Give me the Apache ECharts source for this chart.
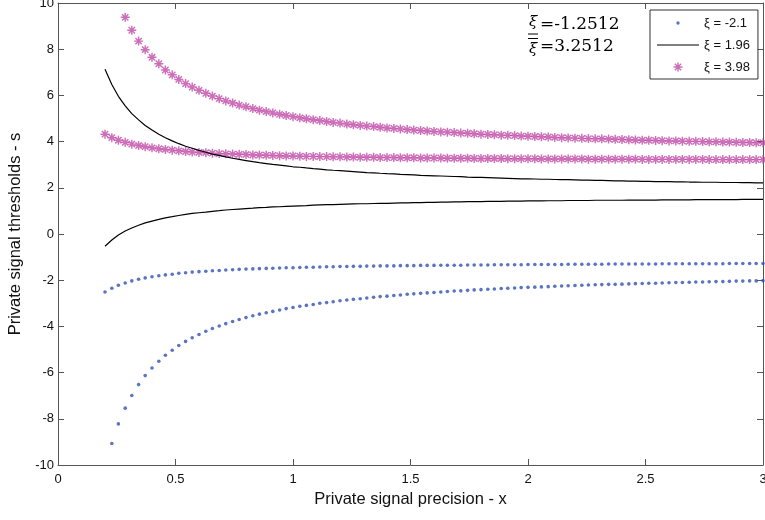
<!DOCTYPE html>
<html><head><meta charset="utf-8">
<script src="https://cdn.jsdelivr.net/npm/echarts@6/dist/echarts.min.js"></script>
<style>html,body{margin:0;padding:0;background:#fff}#c{width:765px;height:520px}</style>
</head><body><div id="c"></div>
<script>
// Private signal precision x (shared by every branch)
const xValues = [
 0.2, 0.229, 0.257, 0.286, 0.314, 0.343, 0.371, 0.4, 0.429, 0.457,
 0.486, 0.514, 0.543, 0.571, 0.6, 0.629, 0.657, 0.686, 0.714, 0.743,
 0.771, 0.8, 0.829, 0.857, 0.886, 0.914, 0.943, 0.971, 1.0, 1.029,
 1.057, 1.086, 1.114, 1.143, 1.171, 1.2, 1.229, 1.257, 1.286, 1.314,
 1.343, 1.371, 1.4, 1.429, 1.457, 1.486, 1.514, 1.543, 1.571, 1.6,
 1.629, 1.657, 1.686, 1.714, 1.743, 1.771, 1.8, 1.829, 1.857, 1.886,
 1.914, 1.943, 1.971, 2.0, 2.029, 2.057, 2.086, 2.114, 2.143, 2.171,
 2.2, 2.229, 2.257, 2.286, 2.314, 2.343, 2.371, 2.4, 2.429, 2.457,
 2.486, 2.514, 2.543, 2.571, 2.6, 2.629, 2.657, 2.686, 2.714, 2.743,
 2.771, 2.8, 2.829, 2.857, 2.886, 2.914, 2.943, 2.971, 3.0
];
// xi = -2.1 : upper and lower thresholds
const xiA_upper = [
 -2.51, -2.35, -2.22, -2.12, -2.03, -1.96, -1.90, -1.85, -1.81, -1.77,
 -1.74, -1.70, -1.68, -1.65, -1.63, -1.61, -1.59, -1.58, -1.56, -1.55,
 -1.53, -1.52, -1.51, -1.50, -1.49, -1.48, -1.47, -1.46, -1.46, -1.45,
 -1.44, -1.44, -1.43, -1.42, -1.42, -1.41, -1.41, -1.40, -1.40, -1.39,
 -1.39, -1.38, -1.38, -1.38, -1.37, -1.37, -1.37, -1.36, -1.36, -1.36,
 -1.35, -1.35, -1.35, -1.35, -1.34, -1.34, -1.34, -1.34, -1.33, -1.33,
 -1.33, -1.33, -1.33, -1.32, -1.32, -1.32, -1.32, -1.32, -1.32, -1.31,
 -1.31, -1.31, -1.31, -1.31, -1.31, -1.30, -1.30, -1.30, -1.30, -1.30,
 -1.30, -1.30, -1.30, -1.29, -1.29, -1.29, -1.29, -1.29, -1.29, -1.29,
 -1.29, -1.29, -1.29, -1.28, -1.28, -1.28, -1.28, -1.28, -1.28
];
const xiA_lower = [
 -10.15, -9.07, -8.22, -7.54, -6.99, -6.52, -6.13, -5.80, -5.51, -5.25,
 -5.03, -4.83, -4.65, -4.49, -4.35, -4.21, -4.09, -3.98, -3.88, -3.79,
 -3.70, -3.62, -3.54, -3.47, -3.41, -3.35, -3.29, -3.23, -3.18, -3.13,
 -3.09, -3.05, -3.00, -2.97, -2.93, -2.89, -2.86, -2.83, -2.80, -2.77,
 -2.74, -2.71, -2.69, -2.66, -2.64, -2.61, -2.59, -2.57, -2.55, -2.53,
 -2.51, -2.49, -2.47, -2.46, -2.44, -2.42, -2.41, -2.39, -2.38, -2.36,
 -2.35, -2.34, -2.32, -2.31, -2.30, -2.29, -2.28, -2.26, -2.25, -2.24,
 -2.23, -2.22, -2.21, -2.20, -2.19, -2.18, -2.18, -2.17, -2.16, -2.15,
 -2.14, -2.13, -2.13, -2.12, -2.11, -2.10, -2.10, -2.09, -2.08, -2.08,
 -2.07, -2.06, -2.06, -2.05, -2.04, -2.04, -2.03, -2.03, -2.02
];
// xi = 1.96
const xiB_upper = [
 7.13, 6.47, 5.96, 5.55, 5.21, 4.94, 4.70, 4.50, 4.32, 4.17,
 4.03, 3.91, 3.80, 3.71, 3.62, 3.54, 3.46, 3.40, 3.34, 3.28,
 3.23, 3.18, 3.13, 3.09, 3.05, 3.01, 2.98, 2.95, 2.91, 2.89,
 2.86, 2.83, 2.81, 2.78, 2.76, 2.74, 2.72, 2.70, 2.68, 2.66,
 2.65, 2.63, 2.61, 2.60, 2.58, 2.57, 2.56, 2.54, 2.53, 2.52,
 2.51, 2.50, 2.49, 2.48, 2.46, 2.45, 2.45, 2.44, 2.43, 2.42,
 2.41, 2.40, 2.39, 2.39, 2.38, 2.37, 2.37, 2.36, 2.35, 2.35,
 2.34, 2.33, 2.33, 2.32, 2.32, 2.31, 2.30, 2.30, 2.29, 2.29,
 2.28, 2.28, 2.27, 2.27, 2.27, 2.26, 2.26, 2.25, 2.25, 2.24,
 2.24, 2.24, 2.23, 2.23, 2.23, 2.22, 2.22, 2.21, 2.21
];
const xiB_lower = [
 -0.53, -0.26, -0.04, 0.13, 0.26, 0.38, 0.48, 0.56, 0.63, 0.70,
 0.75, 0.80, 0.85, 0.89, 0.92, 0.95, 0.98, 1.01, 1.04, 1.06,
 1.08, 1.10, 1.12, 1.14, 1.15, 1.17, 1.18, 1.20, 1.21, 1.22,
 1.23, 1.25, 1.26, 1.27, 1.27, 1.28, 1.29, 1.30, 1.31, 1.31,
 1.32, 1.33, 1.33, 1.34, 1.35, 1.35, 1.36, 1.36, 1.37, 1.37,
 1.38, 1.38, 1.39, 1.39, 1.40, 1.40, 1.40, 1.41, 1.41, 1.41,
 1.42, 1.42, 1.42, 1.43, 1.43, 1.43, 1.44, 1.44, 1.44, 1.45,
 1.45, 1.45, 1.45, 1.46, 1.46, 1.46, 1.46, 1.46, 1.47, 1.47,
 1.47, 1.47, 1.47, 1.48, 1.48, 1.48, 1.48, 1.48, 1.49, 1.49,
 1.49, 1.49, 1.49, 1.49, 1.49, 1.50, 1.50, 1.50, 1.50
];
// xi = 3.98
const xiC_upper = [
 11.86, 10.80, 10.30, 9.38, 8.82, 8.35, 7.98, 7.65, 7.37, 7.10,
 6.89, 6.69, 6.51, 6.36, 6.22, 6.09, 5.97, 5.86, 5.76, 5.67,
 5.58, 5.51, 5.43, 5.36, 5.30, 5.24, 5.18, 5.13, 5.08, 5.03,
 4.99, 4.95, 4.91, 4.87, 4.83, 4.80, 4.76, 4.73, 4.70, 4.67,
 4.65, 4.62, 4.59, 4.57, 4.55, 4.52, 4.50, 4.48, 4.46, 4.44,
 4.42, 4.41, 4.39, 4.37, 4.36, 4.34, 4.32, 4.31, 4.30, 4.28,
 4.27, 4.26, 4.24, 4.23, 4.22, 4.21, 4.20, 4.18, 4.17, 4.16,
 4.15, 4.14, 4.13, 4.12, 4.12, 4.11, 4.10, 4.09, 4.08, 4.07,
 4.06, 4.06, 4.05, 4.04, 4.03, 4.03, 4.02, 4.01, 4.01, 4.00,
 3.99, 3.99, 3.98, 3.98, 3.97, 3.96, 3.96, 3.95, 3.95
];
const xiC_lower = [
 4.32, 4.17, 4.06, 3.97, 3.89, 3.83, 3.78, 3.73, 3.69, 3.66,
 3.63, 3.60, 3.57, 3.55, 3.53, 3.52, 3.50, 3.48, 3.47, 3.46,
 3.45, 3.44, 3.42, 3.42, 3.41, 3.40, 3.39, 3.38, 3.38, 3.37,
 3.36, 3.36, 3.35, 3.35, 3.34, 3.34, 3.33, 3.33, 3.32, 3.32,
 3.32, 3.31, 3.31, 3.31, 3.30, 3.30, 3.30, 3.29, 3.29, 3.29,
 3.29, 3.28, 3.28, 3.28, 3.28, 3.27, 3.27, 3.27, 3.27, 3.27,
 3.26, 3.26, 3.26, 3.26, 3.26, 3.25, 3.25, 3.25, 3.25, 3.25,
 3.25, 3.25, 3.24, 3.24, 3.24, 3.24, 3.24, 3.24, 3.24, 3.24,
 3.23, 3.23, 3.23, 3.23, 3.23, 3.23, 3.23, 3.23, 3.23, 3.23,
 3.22, 3.22, 3.22, 3.22, 3.22, 3.22, 3.22, 3.22, 3.22
];
const seriesNames = ['ξ = -2.1', 'ξ = 1.96', 'ξ = 3.98'];
const xTicks = [0, 0.5, 1, 1.5, 2, 2.5, 3];
const yTicks = [-10, -8, -6, -4, -2, 0, 2, 4, 6, 8, 10];
const xTitle = 'Private signal precision - x';
const yTitle = 'Private signal thresholds - s';
const bounds = [{sym: 'ξ', text: '=-1.2512'}, {sym: 'ξ', text: '=3.2512'}];

const BLUE = '#3151b4', MAG = '#c04aa8', AX = '#555';
const FONT = 'Liberation Sans, Arial, sans-serif';
const SERIF = '"DejaVu Serif", serif';
const star = 'path://M0 4.2H10V5.8H0Z M4.2 0H5.8V10H4.2Z M2.07 0.93L9.07 7.93L7.93 9.07L0.93 2.07Z M9.07 2.07L2.07 9.07L0.93 7.93L7.93 0.93Z';
const pad = 'M0 0h0.01v0.01h-0.01Z M41.99 9.99h0.01v0.01h-0.01Z ';
const legDot = 'path://' + pad + 'M19.3 5a1.7 1.7 0 1 0 3.4 0a1.7 1.7 0 1 0 -3.4 0Z';
const legLine = 'path://' + pad + 'M0 4.4H42V5.6H0Z';
const legStar = 'path://' + pad + 'M16.5 4.28H25.5V5.72H16.5Z M20.28 0.5H21.72V9.5H20.28Z M18.36 1.34L24.66 7.64L23.64 8.66L17.34 2.36Z M24.66 2.36L18.36 8.66L17.34 7.64L23.64 1.34Z';

const pts = arr => xValues.map((x, i) => [x, arr[i]]);
const tickSet = () => ({show: true, inside: true, length: 6, lineStyle: {color: AX, width: 1}});

const chart = echarts.init(document.getElementById('c'), null, {renderer: 'canvas'});
chart.setOption({
  animation: false,
  backgroundColor: '#fff',
  grid: {left: 58, right: 2, top: 3, bottom: 55, containLabel: false, outerBoundsMode: 'none'},
  xAxis: [{
    type: 'value', min: xTicks[0], max: xTicks[xTicks.length - 1], interval: 0.5, position: 'bottom',
    axisLine: {show: true, onZero: false, lineStyle: {color: AX}}, axisTick: tickSet(),
    axisLabel: {color: '#111', fontSize: 13, fontFamily: FONT, margin: 8},
    splitLine: {show: false},
    name: xTitle, nameLocation: 'middle', nameGap: 25,
    nameTextStyle: {fontSize: 16.5, fontFamily: FONT, color: '#111'}
  }, {
    type: 'value', min: xTicks[0], max: xTicks[xTicks.length - 1], interval: 0.5, position: 'top',
    axisLine: {show: true, onZero: false, lineStyle: {color: AX}}, axisTick: tickSet(),
    axisLabel: {show: false}, splitLine: {show: false}
  }],
  yAxis: [{
    type: 'value', min: yTicks[0], max: yTicks[yTicks.length - 1], interval: 2, position: 'left',
    axisLine: {show: true, onZero: false, lineStyle: {color: AX}}, axisTick: tickSet(),
    axisLabel: {color: '#111', fontSize: 13, fontFamily: FONT, margin: 4},
    splitLine: {show: false},
    name: yTitle, nameLocation: 'middle', nameGap: 29,
    nameTextStyle: {fontSize: 16.5, fontFamily: FONT, color: '#111'}
  }, {
    type: 'value', min: yTicks[0], max: yTicks[yTicks.length - 1], interval: 2, position: 'right',
    axisLine: {show: true, onZero: false, lineStyle: {color: AX}}, axisTick: tickSet(),
    axisLabel: {show: false}, splitLine: {show: false}
  }],
  legend: {
    orient: 'vertical', left: 650, top: 10,
    backgroundColor: '#fff', borderColor: '#333', borderWidth: 1, borderRadius: 0,
    padding: [6, 8, 5, 7], itemWidth: 42, itemHeight: 10, itemGap: 8,
    textStyle: {fontSize: 13, fontFamily: FONT, color: '#111', lineHeight: 14},
    data: [
      {name: seriesNames[0], icon: legDot},
      {name: seriesNames[1], icon: legLine},
      {name: seriesNames[2], icon: legStar}
    ]
  },
  series: [
    {name: seriesNames[0], type: 'scatter', data: pts(xiA_upper), symbol: 'circle', symbolSize: 3.6, itemStyle: {color: BLUE}, clip: true},
    {name: seriesNames[0], type: 'scatter', data: pts(xiA_lower), symbol: 'circle', symbolSize: 3.6, itemStyle: {color: BLUE}, clip: true},
    {name: seriesNames[1], type: 'line', data: pts(xiB_upper), showSymbol: false, symbol: 'none', lineStyle: {color: '#000', width: 1.2}, itemStyle: {color: '#000'}, clip: true},
    {name: seriesNames[1], type: 'line', data: pts(xiB_lower), showSymbol: false, symbol: 'none', lineStyle: {color: '#000', width: 1.2}, itemStyle: {color: '#000'}, clip: true},
    {name: seriesNames[2], type: 'scatter', data: pts(xiC_upper), symbol: star, symbolSize: 9, itemStyle: {color: MAG}, clip: true},
    {name: seriesNames[2], type: 'scatter', data: pts(xiC_lower), symbol: star, symbolSize: 9, itemStyle: {color: MAG}, clip: true}
  ],
  graphic: [
    {type: 'text', x: 529, y: 22, style: {text: bounds[0].sym, font: 'italic 15px ' + SERIF, fill: '#000', verticalAlign: 'middle'}},
    {type: 'line', shape: {x1: 528, y1: 34, x2: 538, y2: 34}, style: {stroke: '#000', lineWidth: 1}},
    {type: 'text', x: 540, y: 25, style: {text: bounds[0].text, font: '17px ' + SERIF, fill: '#000', verticalAlign: 'middle'}},
    {type: 'line', shape: {x1: 528, y1: 38.5, x2: 538, y2: 38.5}, style: {stroke: '#000', lineWidth: 1}},
    {type: 'text', x: 529, y: 49, style: {text: bounds[1].sym, font: 'italic 15px ' + SERIF, fill: '#000', verticalAlign: 'middle'}},
    {type: 'text', x: 540, y: 47, style: {text: bounds[1].text, font: '17px ' + SERIF, fill: '#000', verticalAlign: 'middle'}}
  ]
});
</script></body></html>
